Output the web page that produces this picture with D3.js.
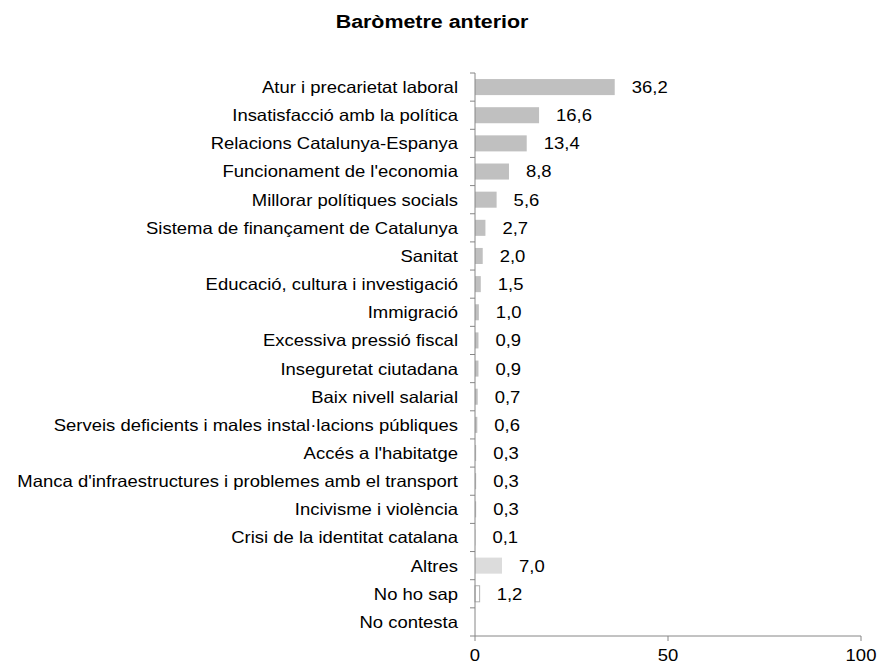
<!DOCTYPE html>
<html>
<head>
<meta charset="utf-8">
<script src="https://cdn.jsdelivr.net/npm/d3@7"></script>
<style>
  body { margin: 0; background: #fff; }
  svg { display: block; font-family: "Liberation Sans", Arial, sans-serif; }
</style>
</head>
<body>
<div id="grafico"></div>
<script>
const width = 878;
const height = 665;

const categories = [
    "Atur i precarietat laboral",
    "Insatisfacció amb la política",
    "Relacions Catalunya-Espanya",
    "Funcionament de l'economia",
    "Millorar polítiques socials",
    "Sistema de finançament de Catalunya",
    "Sanitat",
    "Educació, cultura i investigació",
    "Immigració",
    "Excessiva pressió fiscal",
    "Inseguretat ciutadana",
    "Baix nivell salarial",
    "Serveis deficients i males instal·lacions públiques",
    "Accés a l'habitatge",
    "Manca d'infraestructures i problemes amb el transport",
    "Incivisme i violència",
    "Crisi de la identitat catalana",
    "Altres",
    "No ho sap",
    "No contesta"
];
const values = [36.2, 16.6, 13.4, 8.8, 5.6, 2.7, 2.0, 1.5, 1.0, 0.9, 0.9, 0.7, 0.6, 0.3, 0.3, 0.3, 0.1, 7.0, 1.2, null];
const xTicks = [0, 50, 100];

const data = categories.map((c, i) => ({ cat: c, val: values[i] }));

const margin = { left: 475, top: 73, bottom: 636 };
const sx = 1.12; // el text de l'original és una mica més ample

const svg = d3.select('#grafico')
    .append('svg')
    .attr('width', width)
    .attr('height', height);

const x = d3.scaleLinear()
    .domain([0, 100])
    .range([margin.left, 861]);

const y = d3.scaleBand()
    .domain(categories)
    .range([margin.top, margin.bottom])
    .paddingInner(0.43)
    .paddingOuter(0.215);

// text amb escala horitzontal
function addText(px, py, str, opts) {
    const g = svg.append('g')
        .attr('transform', `translate(${px},${py}) scale(${opts.scale || sx},1)`);
    g.append('text')
        .attr('text-anchor', opts.anchor || 'start')
        .attr('dy', opts.dy || 0)
        .attr('font-size', opts.size || '16.5px')
        .attr('font-weight', opts.weight || 'normal')
        .attr('fill', '#000')
        .text(str);
}

// titol
addText(432, 28, 'Baròmetre anterior', { anchor: 'middle', size: '18px', weight: 'bold', scale: 1.19 });

// barres
const fillFor = d => {
    if (d.cat === 'Altres') return '#dcdcdc';
    if (d.cat === 'No ho sap') return '#ffffff';
    return '#c0c0c0';
};

const withVal = data.filter(d => d.val !== null);

svg.selectAll('rect.bar')
    .data(withVal)
    .enter()
    .append('rect')
    .attr('class', 'bar')
    .attr('x', x(0))
    .attr('y', d => y(d.cat))
    .attr('width', d => x(d.val) - x(0))
    .attr('height', y.bandwidth())
    .attr('fill', fillFor)
    .attr('stroke', d => d.cat === 'No ho sap' ? '#b0b0b0' : 'none');

// etiquetes de valor
withVal.forEach(d => {
    addText(x(d.val) + 17, y(d.cat) + y.bandwidth() / 2, d3.format('.1f')(d.val).replace('.', ','), { dy: '0.36em' });
});

// eix Y
svg.append('line')
    .attr('x1', x(0)).attr('x2', x(0))
    .attr('y1', margin.top).attr('y2', margin.bottom)
    .attr('stroke', '#868686');

const step = y.step();
svg.selectAll('line.tk')
    .data(d3.range(categories.length + 1))
    .enter()
    .append('line')
    .attr('class', 'tk')
    .attr('x1', x(0) - 5).attr('x2', x(0))
    .attr('y1', i => margin.top + i * step)
    .attr('y2', i => margin.top + i * step)
    .attr('stroke', '#868686');

categories.forEach(c => {
    addText(458, y(c) + y.bandwidth() / 2, c, { anchor: 'end', dy: '0.36em' });
});

// eix X
svg.append('line')
    .attr('x1', x(0)).attr('x2', x(100))
    .attr('y1', margin.bottom).attr('y2', margin.bottom)
    .attr('stroke', '#868686');

svg.selectAll('line.xtk')
    .data(xTicks)
    .enter()
    .append('line')
    .attr('class', 'xtk')
    .attr('x1', d => x(d)).attr('x2', d => x(d))
    .attr('y1', margin.bottom).attr('y2', margin.bottom + 5)
    .attr('stroke', '#868686');

xTicks.forEach(t => {
    addText(x(t), 661, String(t), { anchor: 'middle' });
});
</script>
</body>
</html>
